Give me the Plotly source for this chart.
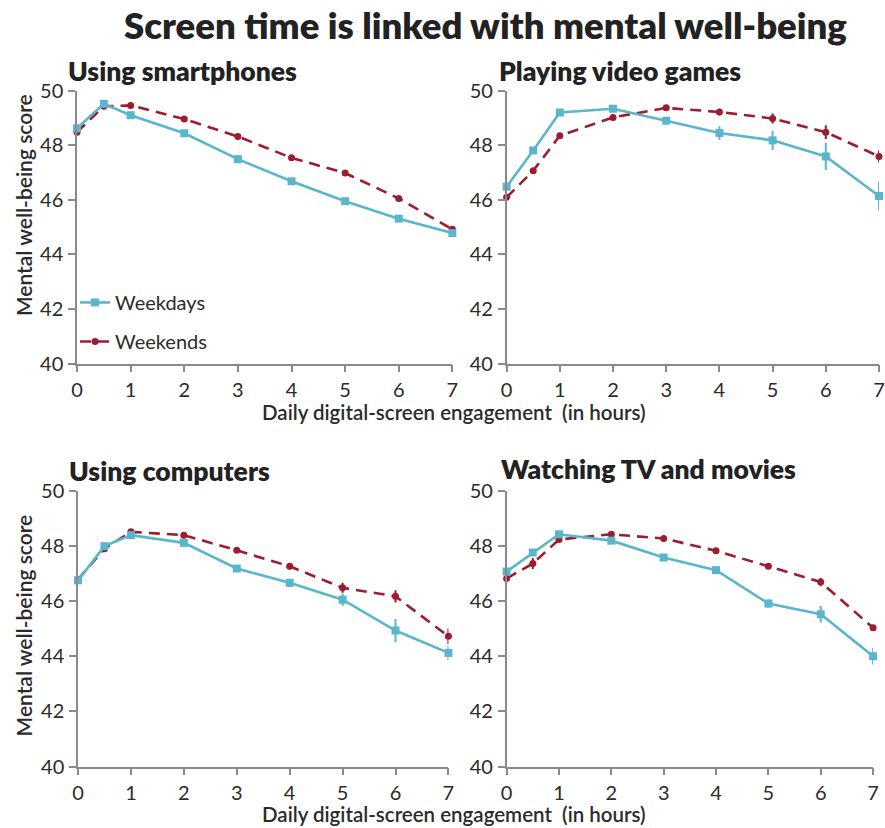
import plotly.graph_objects as go

# Hours of daily screen engagement
hours = [0, 0.5, 1, 2, 3, 4, 5, 6, 7]

panel_titles = ["Using smartphones", "Playing video games",
                "Using computers", "Watching TV and movies"]

# Mean mental well-being scores (weekdays / weekends) per activity
phone_weekdays = [48.62, 49.52, 49.10, 48.44, 47.49, 46.68, 45.95, 45.31, 44.78]
phone_weekends = [48.48, 49.43, 49.46, 48.96, 48.32, 47.54, 46.98, 46.05, 44.92]
games_weekdays = [46.48, 47.81, 49.20, 49.34, 48.90, 48.45, 48.18, 47.59, 46.14]
games_weekends = [46.09, 47.07, 48.35, 49.02, 49.37, 49.22, 48.98, 48.48, 47.59]
computer_weekdays = [46.75, 47.99, 48.39, 48.11, 47.18, 46.66, 46.05, 44.93, 44.12]
computer_weekends = [46.78, 47.90, 48.51, 48.39, 47.84, 47.26, 46.48, 46.17, 44.72]
tv_weekdays = [47.07, 47.76, 48.42, 48.19, 47.58, 47.12, 45.91, 45.52, 44.00]
tv_weekends = [46.82, 47.36, 48.23, 48.42, 48.27, 47.82, 47.26, 46.69, 45.03]

# Half-widths of the confidence intervals
phone_weekdays_err = [0.06, 0.05, 0.05, 0.05, 0.05, 0.06, 0.07, 0.08, 0.08]
phone_weekends_err = [0.06, 0.06, 0.06, 0.06, 0.06, 0.07, 0.08, 0.10, 0.10]
games_weekdays_err = [0.05, 0.08, 0.08, 0.08, 0.10, 0.25, 0.35, 0.50, 0.52]
games_weekends_err = [0.05, 0.08, 0.08, 0.08, 0.10, 0.12, 0.18, 0.25, 0.22]
computer_weekdays_err = [0.05, 0.06, 0.06, 0.08, 0.08, 0.15, 0.22, 0.42, 0.28]
computer_weekends_err = [0.05, 0.08, 0.06, 0.08, 0.10, 0.12, 0.18, 0.22, 0.28]
tv_weekdays_err = [0.06, 0.10, 0.08, 0.06, 0.06, 0.08, 0.15, 0.30, 0.30]
tv_weekends_err = [0.06, 0.20, 0.08, 0.06, 0.06, 0.08, 0.10, 0.15, 0.08]

y_ticks = [40, 42, 44, 46, 48, 50]
x_ticks = [0, 1, 2, 3, 4, 5, 6, 7]

series = [
    (phone_weekdays, phone_weekdays_err, phone_weekends, phone_weekends_err),
    (games_weekdays, games_weekdays_err, games_weekends, games_weekends_err),
    (computer_weekdays, computer_weekdays_err, computer_weekends, computer_weekends_err),
    (tv_weekdays, tv_weekdays_err, tv_weekends, tv_weekends_err),
]

W, H = 885, 828
BLUE = "#5ab6cd"
RED = "#9c1c30"
AXIS = "#8a8a8a"
TEXT = "#2b2b2b"
FONT = "Lato"

# Plot-area pixel boxes: (left, right, top, bottom)
boxes = [
    (72, 452.5, 80, 361),
    (507.5, 885, 80, 361),
    (73, 448.5, 492, 776),
    (507.5, 879, 492, 776),
]

fig = go.Figure()
layout = {}
for i, ((wd, wd_e, we, we_e), (l, r, t, b)) in enumerate(zip(series, boxes)):
    n = "" if i == 0 else str(i + 1)
    xa, ya = "x" + n, "y" + n
    fig.add_trace(go.Scatter(
        x=hours, y=we, xaxis=xa, yaxis=ya, name="Weekends",
        mode="lines+markers", cliponaxis=False,
        line=dict(color=RED, width=2.6, dash="11px,7px"),
        marker=dict(color=RED, size=7, symbol="circle"),
        error_y=dict(type="data", array=we_e, color=RED, thickness=2, width=0),
        showlegend=(i == 0), legendgroup="we", legendrank=2,
    ))
    fig.add_trace(go.Scatter(
        x=hours, y=wd, xaxis=xa, yaxis=ya, name="Weekdays",
        mode="lines+markers", cliponaxis=False,
        line=dict(color=BLUE, width=2.6),
        marker=dict(color=BLUE, size=8, symbol="square"),
        error_y=dict(type="data", array=wd_e, color=BLUE, thickness=2, width=0),
        showlegend=(i == 0), legendgroup="wd", legendrank=1,
    ))
    axis_common = dict(
        showline=True, linecolor=AXIS, linewidth=1.5, showgrid=False,
        zeroline=False, ticks="outside", ticklen=7, tickcolor=AXIS,
        tickwidth=1.5, tickfont=dict(family=FONT, size=20, color=TEXT),
    )
    layout["xaxis" + n] = dict(
        axis_common, domain=[l / W, r / W], range=[0, 7], tickvals=x_ticks,
        anchor=ya, ticklabelstandoff=1,
    )
    layout["yaxis" + n] = dict(
        axis_common, domain=[1 - b / H, 1 - t / H], range=[40, 50],
        tickvals=y_ticks, anchor=xa, ticklabelstandoff=1,
    )

annotations = [
    dict(text="Screen time is linked with mental well-being",
         x=486 / W, y=1 + 11 / H, xref="paper", yref="paper",
         showarrow=False,
         font=dict(family=FONT, size=36.5, color="#222", weight=800),
         xanchor="center", yanchor="top", borderpad=0),
]
title_pos = [(61, 60), (498, 60), (62, 472), (500, 470)]
for txt, (px, py) in zip(panel_titles, title_pos):
    annotations.append(dict(
        text=txt, x=px / W, y=1 - py / H, xref="paper",
        yref="paper", showarrow=False, xanchor="left", yanchor="middle",
        font=dict(family=FONT, size=26.5, color="#222", weight=800)))
for py in (411, 825):
    annotations.append(dict(
        text="Daily digital-screen engagement  (in hours)", x=454 / W,
        y=1 - py / H, xref="paper", yref="paper", showarrow=False,
        xanchor="center", yanchor="middle",
        font=dict(family=FONT, size=20.5, color=TEXT, weight=600)))
for py in (198, 631):
    annotations.append(dict(
        text="Mental well-being score", x=18 / W, y=1 - py / H,
        xref="paper", yref="paper", showarrow=False, textangle=-90,
        xanchor="center", yanchor="middle",
        font=dict(family=FONT, size=21, color=TEXT, weight=600)))

fig.update_layout(
    **layout,
    width=W, height=H, margin=dict(l=0, r=0, t=0, b=0),
    paper_bgcolor="white", plot_bgcolor="white",
    annotations=annotations,
    legend=dict(x=70 / W, y=1 - 278 / H, xanchor="left", yanchor="top",
                font=dict(family=FONT, size=20, color=TEXT),
                bgcolor="rgba(0,0,0,0)", tracegroupgap=10, itemwidth=30),
    showlegend=True,
)

fig.write_html("out.html")
